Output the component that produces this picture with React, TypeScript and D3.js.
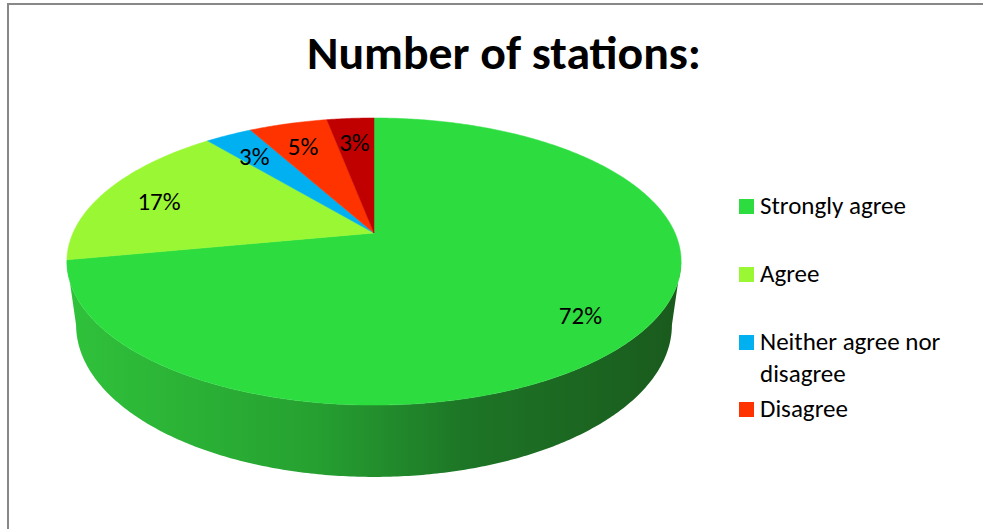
import React from "react";
import * as d3 from "d3";

const categories = ["Strongly agree", "Agree", "Neither agree nor disagree", "Disagree", "Strongly disagree"];
const values = [72, 17, 3, 5, 3];
const colors = ["#2ddd40", "#99f833", "#00b0f0", "#ff3300", "#c00000"];
const legendItems = [
  { lines: ["Strongly agree"], color: "#2ddd40" },
  { lines: ["Agree"], color: "#99f833" },
  { lines: ["Neither agree nor", "disagree"], color: "#00b0f0" },
  { lines: ["Disagree"], color: "#ff3300" },
];
const title = "Number of stations:";

const W = 983;
const H = 529;
const FONT = "Carlito, Calibri, Lato, 'Open Sans', sans-serif";

// projection of the tilted pie (perspective)
const cx = 374, cy = 233, A = 301, B = 137.9, K = 0.1987, SB = 0.97, DEPTH = 61.7;

function proj(theta: number, r: number, bottom = false): [number, number] {
  const u = r * Math.sin(theta);
  const v = -r * Math.cos(theta);
  const den = 1 - K * v;
  if (!bottom) return [cx + (A * u) / den, cy + (B * v) / den];
  return [cx + (SB * A * u) / den, cy + (SB * B * v + DEPTH) / den];
}

function arcPts(a0: number, a1: number, bottom = false): [number, number][] {
  const n = Math.max(2, Math.ceil(Math.abs(a1 - a0) / 0.01));
  return d3.range(n + 1).map((i) => proj(a0 + ((a1 - a0) * i) / n, 1, bottom));
}

export default function App() {
  const pie = d3.pie<number>().sort(null).startAngle(0).endAngle(2 * Math.PI);
  const arcs = pie(values);
  const line = d3.line();

  const thetaRight = Math.PI - Math.asin(Math.sqrt(1 - K * K)); // ~101.5deg
  const thetaLeft = 2 * Math.PI - thetaRight; // ~258.5deg

  const sides = arcs
    .map((a, i) => {
      const s = Math.max(a.startAngle, thetaRight);
      const e = Math.min(a.endAngle, thetaLeft);
      if (e <= s) return null;
      const pts = [...arcPts(s, e, false), ...arcPts(e, s, true)];
      return { i, d: line(pts) + "Z" };
    })
    .filter(Boolean) as { i: number; d: string }[];

  const tops = arcs.map((a, i) => {
    const pts: [number, number][] = [[cx, cy], ...arcPts(a.startAngle, a.endAngle, false)];
    return { i, d: line(pts) + "Z" };
  });

  const labels = arcs.map((a, i) => {
    const mid = (a.startAngle + a.endAngle) / 2;
    const [x, y] = proj(mid, 0.8, false);
    return { i, x, y: y + 4, text: `${values[i]}%` };
  });

  const legendX = 739;
  const legendRows = [214, 282, 350, 417];

  return (
    <svg width={W} height={H} style={{ position: "absolute", left: 0, top: 0, background: "#fff" }}>
      <defs>
        <linearGradient id="sideGrad" x1={cx - A * 1.02} x2={cx + A * 1.02} y1={0} y2={0} gradientUnits="userSpaceOnUse">
          <stop offset="0" stopColor="#30c23b" />
          <stop offset="0.4" stopColor="#26a131" />
          <stop offset="0.65" stopColor="#1d7526" />
          <stop offset="1" stopColor="#1a5a1d" />
        </linearGradient>
      </defs>
      <rect x={0} y={0} width={W} height={H} fill="#fff" />
      <line x1={8} y1={3} x2={8} y2={H} stroke="#888" strokeWidth={2} />
      <line x1={7} y1={4} x2={W} y2={4} stroke="#888" strokeWidth={2} />

      <text x={504} y={69} textAnchor="middle" fontFamily={FONT} fontWeight="bold" fontSize={46} textLength={394} lengthAdjust="spacingAndGlyphs" fill="#000">
        {title}
      </text>

      {sides.map((s) => (
        <path key={"s" + s.i} d={s.d} fill={s.i === 0 ? "url(#sideGrad)" : d3.color(colors[s.i])!.darker(1).toString()} />
      ))}
      {tops.map((t) => (
        <path key={"t" + t.i} d={t.d} fill={colors[t.i]} stroke={colors[t.i]} strokeWidth={0.5} />
      ))}
      {labels.map((l) => (
        <text key={"l" + l.i} x={l.x} y={l.y} textAnchor="middle" dominantBaseline="central" fontFamily={FONT} fontSize={25} fill="#000">
          {l.text}
        </text>
      ))}

      {legendItems.map((item, i) => (
        <g key={"g" + i}>
          <rect x={legendX} y={legendRows[i] - 15} width={15} height={15} fill={item.color} />
          {item.lines.map((ln, j) => (
            <text key={j} x={legendX + 21} y={legendRows[i] + j * 32} fontFamily={FONT} fontSize={25} fill="#000">
              {ln}
            </text>
          ))}
        </g>
      ))}
      <desc>{categories.join(", ")}</desc>
    </svg>
  );
}
